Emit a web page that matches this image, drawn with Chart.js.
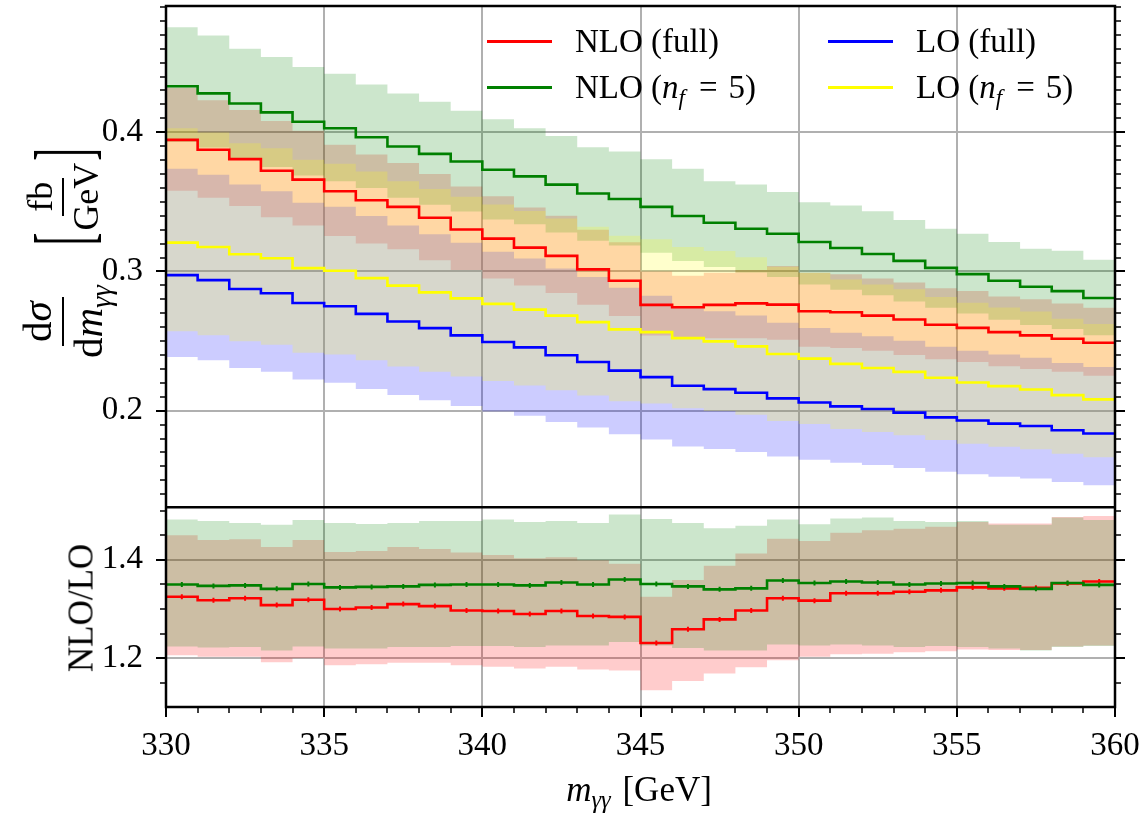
<!DOCTYPE html>
<html>
<head>
<meta charset="utf-8">
<script src="https://cdn.jsdelivr.net/npm/chart.js@4.4.1/dist/chart.umd.min.js"></script>
<style>
  body { margin: 0; background: #fff; }
  #wrap { position: relative; width: 1148px; height: 817px; font-family: "Liberation Serif", "Times New Roman", serif; color: #000; }
  #plot { position: absolute; left: 0; top: 0; }
  .txt { position: absolute; white-space: nowrap; font-size: 33px; line-height: 1; }
  .sw { position: absolute; height: 3px; width: 65px; }
  sub { font-size: 0.7em; vertical-align: -0.3em; line-height: 0; }
  .txt sub { margin-right: 3px; }
  .eq { margin: 0 11px; }
  .rot { position: absolute; white-space: nowrap; display: flex; align-items: center; transform: translate(-50%, -50%) rotate(-90deg); font-size: 36px; line-height: 1; }
  .frac { display: inline-flex; flex-direction: column; align-items: center; }
  .frac .num { border-bottom: 2.5px solid #000; padding: 0 4px 4px; line-height: 1; }
  .frac .den { padding-top: 4px; line-height: 1; }
  .f1 { font-size: 41px; }
  .big { display: inline-block; font-size: 38px; line-height: 1; transform: scaleY(2.1); margin: 0 2px; }
</style>
</head>
<body>
<div id="wrap">
  <canvas id="plot" width="1148" height="817"></canvas>

  <div class="sw" style="left:487px; top:40px; background:#ff0000;"></div>
  <div class="txt" style="left:575px; top:25px;">NLO (full)</div>
  <div class="sw" style="left:487px; top:86px; background:#008000;"></div>
  <div class="txt" style="left:575px; top:71px;">NLO (<i>n</i><sub><i>f</i></sub><span class="eq">=</span>5)</div>
  <div class="sw" style="left:828px; top:40px; background:#0000ff;"></div>
  <div class="txt" style="left:916px; top:25px;">LO (full)</div>
  <div class="sw" style="left:828px; top:86px; background:#ffff00;"></div>
  <div class="txt" style="left:916px; top:71px;">LO (<i>n</i><sub><i>f</i></sub><span class="eq">=</span>5)</div>

  <div class="rot" style="left:63px; top:252px;">
    <span class="frac f1"><span class="num">d<i>σ</i></span><span class="den">d<i>m</i><sub><i>γγ</i></sub></span></span>
    <span class="big" style="margin-left:40px;">[</span><span class="frac"><span class="num">fb</span><span class="den">GeV</span></span><span class="big">]</span>
  </div>
  <div class="rot" style="left:81px; top:608px; font-size:35px;">NLO/LO</div>
  <div class="txt" style="left:639px; top:789px; font-size:35px; transform: translate(-50%, -50%);"><i>m</i><sub><i>γγ</i></sub> [GeV]</div>
</div>

<script>
// bin edges (GeV), 30 bins of 1 GeV
const binEdges = [330, 331, 332, 333, 334, 335, 336, 337, 338, 339, 340, 341, 342, 343, 344, 345,
                  346, 347, 348, 349, 350, 351, 352, 353, 354, 355, 356, 357, 358, 359, 360];

// dsigma/dm [fb/GeV], central values
const nloFull = [0.3945, 0.3874, 0.3807, 0.3724, 0.3660, 0.3576, 0.3512, 0.3464, 0.3386, 0.3302,
                 0.3236, 0.3171, 0.3112, 0.3015, 0.2933, 0.2760, 0.2743, 0.2760, 0.2771, 0.2762,
                 0.2714, 0.2707, 0.2683, 0.2655, 0.2617, 0.2595, 0.2564, 0.2541, 0.2517, 0.2488];
const nloNf5 = [0.4330, 0.4279, 0.4207, 0.4143, 0.4076, 0.4029, 0.3964, 0.3898, 0.3845, 0.3790,
                0.3731, 0.3683, 0.3624, 0.3560, 0.3521, 0.3464, 0.3398, 0.3350, 0.3307, 0.3271,
                0.3212, 0.3169, 0.3126, 0.3076, 0.3026, 0.2981, 0.2933, 0.2890, 0.2859, 0.2809];
const loFull = [0.2974, 0.2938, 0.2874, 0.2843, 0.2774, 0.2750, 0.2695, 0.2641, 0.2593, 0.2541,
                0.2493, 0.2455, 0.2398, 0.2350, 0.2288, 0.2241, 0.2179, 0.2155, 0.2129, 0.2088,
                0.2059, 0.2031, 0.2012, 0.1986, 0.1952, 0.1929, 0.1907, 0.1890, 0.1859, 0.1836];
const loNf5 = [0.3207, 0.3176, 0.3124, 0.3095, 0.3024, 0.3005, 0.2952, 0.2898, 0.2850, 0.2807,
               0.2767, 0.2726, 0.2683, 0.2636, 0.2584, 0.2564, 0.2521, 0.2498, 0.2462, 0.2407,
               0.2374, 0.2336, 0.2307, 0.2279, 0.2236, 0.2202, 0.2176, 0.2152, 0.2112, 0.2081];

// scale variation bands
const nloFullHi = [0.432, 0.423, 0.416, 0.408, 0.401, 0.391, 0.384, 0.378, 0.370, 0.361,
                   0.354, 0.346, 0.340, 0.330, 0.321, 0.300, 0.297, 0.299, 0.301, 0.304,
                   0.299, 0.298, 0.295, 0.292, 0.288, 0.286, 0.282, 0.280, 0.277, 0.274];
const nloFullLo = [0.358, 0.353, 0.347, 0.339, 0.333, 0.3255, 0.320, 0.316, 0.308, 0.301,
                   0.295, 0.290, 0.2845, 0.276, 0.268, 0.254, 0.252, 0.252, 0.252, 0.251,
                   0.246, 0.245, 0.243, 0.240, 0.237, 0.235, 0.232, 0.230, 0.228, 0.225];
const nloNf5Hi = [0.4755, 0.4695, 0.4600, 0.4541, 0.4469, 0.4421, 0.4343, 0.4279, 0.4219, 0.4155,
                  0.4093, 0.4029, 0.3974, 0.3893, 0.3862, 0.3807, 0.3738, 0.3648, 0.3624, 0.3571,
                  0.3498, 0.3474, 0.3433, 0.3369, 0.3307, 0.3271, 0.3212, 0.3164, 0.3148, 0.3084];
const nloNf5Lo = [0.393, 0.389, 0.381, 0.375, 0.369, 0.3648, 0.360, 0.3529, 0.348, 0.343,
                  0.3374, 0.334, 0.328, 0.322, 0.3187, 0.3135, 0.3075, 0.3032, 0.2993, 0.296,
                  0.2907, 0.2868, 0.2829, 0.2784, 0.2739, 0.2698, 0.2654, 0.2615, 0.2587, 0.2542];
const loFullHi = [0.3738, 0.3695, 0.3624, 0.3576, 0.3493, 0.3464, 0.3398, 0.3331, 0.3267, 0.3207,
                  0.3141, 0.3093, 0.3021, 0.2961, 0.2883, 0.2826, 0.2746, 0.2715, 0.2683, 0.2631,
                  0.2594, 0.2559, 0.2535, 0.2502, 0.2460, 0.2431, 0.2403, 0.2381, 0.2342, 0.2313];
const loFullLo = [0.2386, 0.2362, 0.2307, 0.2279, 0.2224, 0.2200, 0.2156, 0.2113, 0.2074, 0.2033,
                  0.1994, 0.1964, 0.1918, 0.1880, 0.1830, 0.1793, 0.1743, 0.1724, 0.1703, 0.1670,
                  0.1647, 0.1625, 0.1610, 0.1589, 0.1562, 0.1543, 0.1526, 0.1512, 0.1487, 0.1464];
const loNf5Hi = [0.4029, 0.3998, 0.3921, 0.3886, 0.3802, 0.3774, 0.3719, 0.3648, 0.3593, 0.3536,
                 0.3481, 0.3435, 0.3381, 0.3321, 0.3256, 0.3231, 0.3176, 0.3147, 0.3102, 0.3033,
                 0.2991, 0.2943, 0.2907, 0.2872, 0.2817, 0.2775, 0.2742, 0.2712, 0.2661, 0.2622];
const loNf5Lo = [0.2571, 0.2541, 0.2498, 0.2474, 0.2416, 0.2404, 0.2362, 0.2318, 0.2280, 0.2246,
                 0.2214, 0.2181, 0.2146, 0.2109, 0.2067, 0.2051, 0.2017, 0.1998, 0.1970, 0.1926,
                 0.1905, 0.1869, 0.1846, 0.1823, 0.1789, 0.1762, 0.1741, 0.1722, 0.1690, 0.1665];

// NLO/LO ratio panel
const ratioFull = [1.325, 1.318, 1.322, 1.308, 1.319, 1.300, 1.303, 1.310, 1.306, 1.297,
                   1.296, 1.290, 1.296, 1.286, 1.284, 1.231, 1.259, 1.279, 1.297, 1.322,
                   1.317, 1.332, 1.332, 1.335, 1.338, 1.344, 1.342, 1.343, 1.352, 1.356];
const ratioNf5 = [1.350, 1.347, 1.348, 1.341, 1.351, 1.344, 1.345, 1.346, 1.349, 1.350,
                  1.350, 1.348, 1.354, 1.350, 1.360, 1.351, 1.346, 1.340, 1.342, 1.358,
                  1.353, 1.356, 1.354, 1.350, 1.352, 1.353, 1.346, 1.341, 1.353, 1.349];
const ratioFullHi = [1.450, 1.440, 1.442, 1.426, 1.440, 1.416, 1.418, 1.426, 1.422, 1.415,
                     1.410, 1.403, 1.405, 1.399, 1.392, 1.325, 1.359, 1.388, 1.413, 1.443,
                     1.438, 1.455, 1.460, 1.463, 1.467, 1.477, 1.474, 1.474, 1.487, 1.489];
const ratioFullLo = [1.206, 1.203, 1.203, 1.192, 1.200, 1.186, 1.188, 1.191, 1.191, 1.186,
                     1.183, 1.179, 1.183, 1.177, 1.175, 1.135, 1.154, 1.169, 1.182, 1.196,
                     1.203, 1.208, 1.209, 1.212, 1.214, 1.218, 1.217, 1.217, 1.224, 1.226];
const ratioNf5Hi = [1.482, 1.479, 1.475, 1.471, 1.481, 1.475, 1.473, 1.475, 1.479, 1.479,
                    1.482, 1.477, 1.479, 1.475, 1.492, 1.483, 1.475, 1.464, 1.469, 1.482,
                    1.472, 1.484, 1.486, 1.479, 1.477, 1.479, 1.471, 1.471, 1.486, 1.481];
const ratioNf5Lo = [1.224, 1.222, 1.223, 1.216, 1.224, 1.220, 1.220, 1.223, 1.223, 1.225,
                    1.225, 1.223, 1.226, 1.226, 1.233, 1.226, 1.221, 1.216, 1.216, 1.228,
                    1.226, 1.228, 1.226, 1.223, 1.225, 1.223, 1.220, 1.216, 1.223, 1.225];

// axis ranges
const xRange = [330, 360];
const yMainRange = [0.1307, 0.4907];
const yRatioRange = [1.101, 1.507];

Chart.defaults.font.family = "'Liberation Serif', 'Times New Roman', serif";
Chart.defaults.font.size = 33;
Chart.defaults.color = '#000';

const GRID = '#b0b0b0';

// histogram-style points: value i holds from edge i to edge i+1
const steps = vals => vals.map((v, i) => ({ x: binEdges[i], y: v }))
  .concat([{ x: binEdges[vals.length], y: vals[vals.length - 1] }]);
const centers = vals => vals.map((v, i) => ({ x: (binEdges[i] + binEdges[i + 1]) / 2, y: v }));

function line(data, color, axis, order) {
  return { data: steps(data), borderColor: color, borderWidth: 2.6, stepped: true,
           pointRadius: 0, fill: false, yAxisID: axis, order: order };
}
function band(hi, lo, color, axis, order) {
  return [
    { data: steps(hi), borderWidth: 0, stepped: true, pointRadius: 0, fill: '+1',
      backgroundColor: color, yAxisID: axis, order: order },
    { data: steps(lo), borderWidth: 0, stepped: true, pointRadius: 0, fill: false,
      yAxisID: axis, order: order }
  ];
}
function marks(data, color, axis, order) {
  return { data: centers(data), showLine: false, pointStyle: 'line', rotation: 90,
           pointRadius: 2.5, borderColor: color, borderWidth: 2, yAxisID: axis, order: order };
}

const datasets = [
  line(loNf5, '#ffff00', 'y', 1),
  line(loFull, '#0000ff', 'y', 2),
  line(nloNf5, '#008000', 'y', 3),
  line(nloFull, '#ff0000', 'y', 4),
  marks(ratioNf5, '#008000', 'yr', 1),
  line(ratioNf5, '#008000', 'yr', 2),
  marks(ratioFull, '#ff0000', 'yr', 3),
  line(ratioFull, '#ff0000', 'yr', 4),
  ...band(loNf5Hi, loNf5Lo, 'rgba(255,255,0,0.2)', 'y', 11),
  ...band(loFullHi, loFullLo, 'rgba(0,0,255,0.2)', 'y', 12),
  ...band(nloNf5Hi, nloNf5Lo, 'rgba(0,128,0,0.2)', 'y', 13),
  ...band(nloFullHi, nloFullLo, 'rgba(255,0,0,0.2)', 'y', 14),
  ...band(ratioNf5Hi, ratioNf5Lo, 'rgba(0,128,0,0.2)', 'yr', 13),
  ...band(ratioFullHi, ratioFullLo, 'rgba(255,0,0,0.2)', 'yr', 14)
];

// frame, panel divider and outward tick marks (matplotlib look)
const frame = {
  id: 'frame',
  afterDraw(chart) {
    const { ctx, chartArea: a, scales } = chart;
    const seg = (x0, y0, x1, y1) => { ctx.beginPath(); ctx.moveTo(x0, y0); ctx.lineTo(x1, y1); ctx.stroke(); };
    ctx.save();
    ctx.strokeStyle = '#000';
    const sideTicks = (scale, step, major) => {
      const n0 = Math.ceil(scale.min / step - 1e-9), n1 = Math.floor(scale.max / step + 1e-9);
      for (let n = n0; n <= n1; n++) {
        const v = n * step;
        const isMajor = Math.abs(v / major - Math.round(v / major)) < 1e-6;
        const len = isMajor ? 10 : 6;
        const p = Math.round(scale.getPixelForValue(v));
        ctx.lineWidth = isMajor ? 2 : 1.5;
        seg(a.left - len, p, a.left, p);
        seg(a.right, p, a.right + len, p);
      }
    };
    sideTicks(scales.y, 0.01, 0.1);
    sideTicks(scales.yr, 0.05, 0.2);
    binEdges.forEach(v => {
      const isMajor = v % 5 === 0;
      const p = Math.round(scales.x.getPixelForValue(v));
      ctx.lineWidth = isMajor ? 2 : 1.5;
      seg(p, a.bottom, p, a.bottom + (isMajor ? 10 : 6));
    });
    ctx.lineWidth = 2.5;
    ctx.strokeRect(a.left, a.top, a.width, a.height);
    seg(a.left, scales.yr.top, a.right, scales.yr.top);
    ctx.restore();
  }
};

new Chart(document.getElementById('plot'), {
  type: 'line',
  data: { datasets: datasets },
  options: {
    responsive: false,
    animation: false,
    devicePixelRatio: 1,
    layout: { padding: { left: 0, right: 33, top: 2, bottom: 0 } },
    plugins: {
      legend: { display: false },
      tooltip: { enabled: false },
      filler: { drawTime: 'beforeDatasetsDraw' }
    },
    scales: {
      x: {
        type: 'linear', min: xRange[0], max: xRange[1],
        border: { display: false },
        grid: { color: GRID, lineWidth: 2, drawTicks: false },
        ticks: { stepSize: 5, padding: 20, maxRotation: 0, autoSkip: false },
        afterFit(s) { s.height = 110; s.paddingLeft = 0; s.paddingRight = 0; }
      },
      yr: {
        type: 'linear', position: 'left', stack: 'panels', stackWeight: 201,
        min: yRatioRange[0], max: yRatioRange[1],
        border: { display: false },
        grid: { color: GRID, lineWidth: 2, drawTicks: false },
        ticks: { stepSize: 0.2, includeBounds: false, padding: 23, autoSkip: false,
                 callback: v => v.toFixed(1) },
        afterFit(s) { s.width = 166; s.paddingTop = 0; s.paddingBottom = 0; }
      },
      y: {
        type: 'linear', position: 'left', stack: 'panels', stackWeight: 504,
        min: yMainRange[0], max: yMainRange[1],
        border: { display: false },
        grid: { color: GRID, lineWidth: 2, drawTicks: false },
        ticks: { stepSize: 0.1, includeBounds: false, padding: 23, autoSkip: false,
                 callback: v => v.toFixed(1) },
        afterFit(s) { s.width = 166; s.paddingTop = 0; s.paddingBottom = 0; }
      }
    }
  },
  plugins: [frame]
});
</script>
</body>
</html>
